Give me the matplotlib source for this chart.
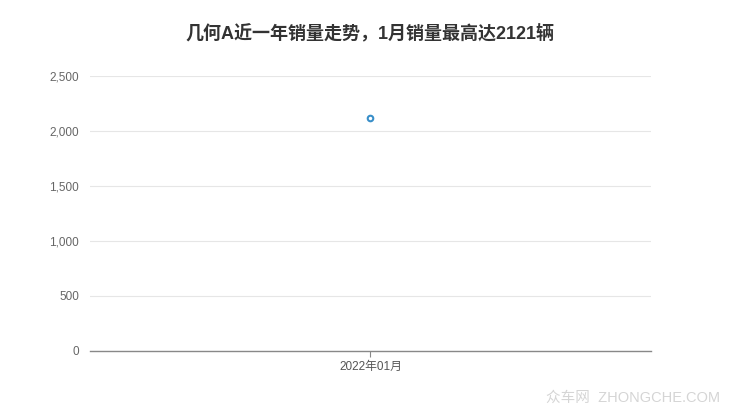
import matplotlib
matplotlib.use("Agg")
import matplotlib.pyplot as plt

plt.rcParams['font.family'] = ['Liberation Sans', 'Noto Sans CJK SC', 'DejaVu Sans']

months = ["2022年01月"]
sales = [2121]
y_ticks = [0, 500, 1000, 1500, 2000, 2500]

fig = plt.figure(figsize=(7.4, 4.17), dpi=100)
ax = fig.add_axes([0.1216, 0.1583, 0.7581, 0.6594])

x = list(range(len(months)))
ax.plot(x, sales, marker="o", markersize=4, markerfacecolor="white",
        markeredgecolor="#3a8fc9", markeredgewidth=1.5, linestyle="-",
        color="#3a8fc9", zorder=3)

ax.set_xlim(-0.5, len(months) - 0.5)
ax.set_ylim(0, 2500)
ax.set_yticks(y_ticks)
ax.set_yticklabels([f"{v:,}" for v in y_ticks])
ax.set_xticks(x)
ax.set_xticklabels(months)

ax.grid(axis="y", color="#e6e6e6", linewidth=0.8)
ax.set_axisbelow(True)
for side in ["top", "right", "left"]:
    ax.spines[side].set_visible(False)
ax.spines["bottom"].set_color("#888888")
ax.spines["bottom"].set_linewidth(1.0)

ax.tick_params(axis="y", length=0, pad=8, labelsize=8.5, labelcolor="#666666")
ax.tick_params(axis="x", length=4, color="#888888", pad=3, labelsize=8.5, labelcolor="#555555")

fig.text(0.5, 0.92, "几何A近一年销量走势，1月销量最高达2121辆", ha="center", va="center",
         fontsize=13, fontweight="bold", color="#333333")

fig.text(0.973, 0.045, "众车网  ZHONGCHE.COM", ha="right", va="center",
         fontsize=10.5, color="#d5d5d5")

fig.savefig("out.png", dpi=100)
plt.close(fig)
